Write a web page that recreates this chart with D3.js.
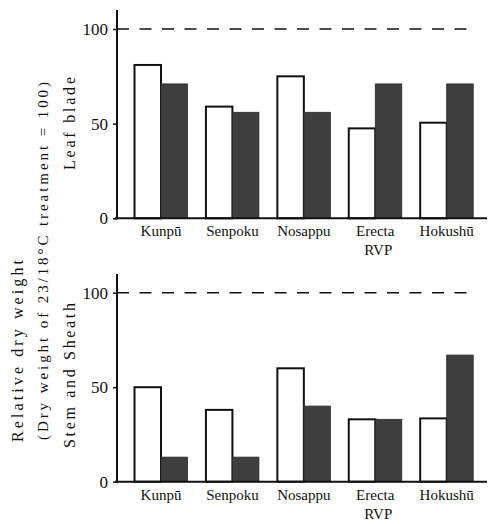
<!DOCTYPE html>
<html>
<head>
<meta charset="utf-8">
<script src="https://cdn.jsdelivr.net/npm/d3@7"></script>
<style>
html,body{margin:0;padding:0;background:#fff;}
svg{display:block;}
</style>
</head>
<body>
<svg id="chart" width="488" height="524" font-family="Liberation Serif, Times New Roman, DejaVu Serif, serif"></svg>
<script>
const categories = ["Kunpū", "Senpoku", "Nosappu", "Erecta\nRVP", "Hokushū"];
const series = ["low", "high"];
const leafLow  = [81, 59, 75, 47.5, 50.5];
const leafHigh = [71, 56, 56, 71, 71];
const stemLow  = [50, 38, 60, 33, 33.5];
const stemHigh = [13, 13, 40, 33, 67];
const yTicks = [0, 50, 100];
const referenceValue = 100;

const FONT = "Liberation Serif, Times New Roman, DejaVu Serif, serif";
const svg = d3.select("#chart");
const axisX = 117;
const x = d3.scalePoint().domain(categories).range([161, 446.7]);
const sub = d3.scaleBand().domain(series).range([-26.5, 26.5]).padding(0);
const colors = {low: "#ffffff", high: "#3e3e3e"};

function panel(lowVals, highVals, y0, y100, yTop, title, titleLen, titleCenter) {
  const y = d3.scaleLinear().domain([0, 100]).range([y0, y100]);
  const g = svg.append("g");
  const rows = categories.map((c, i) => ({c, low: lowVals[i], high: highVals[i]}));

  g.append("line")
    .attr("x1", axisX).attr("x2", 477)
    .attr("y1", y(referenceValue)).attr("y2", y(referenceValue))
    .attr("stroke", "#111").attr("stroke-width", 1.6)
    .attr("stroke-dasharray", "12,10.5");

  const grp = g.selectAll("g.cat").data(rows).enter().append("g")
    .attr("transform", d => `translate(${x(d.c)},0)`);
  grp.selectAll("rect").data(d => series.map(s => ({s, v: d[s]}))).enter().append("rect")
    .attr("x", d => sub(d.s))
    .attr("width", sub.bandwidth())
    .attr("y", d => y(d.v))
    .attr("height", d => y(0) - y(d.v))
    .attr("fill", d => colors[d.s])
    .attr("stroke", d => d.s === "low" ? "#111" : "#2a2a2a")
    .attr("stroke-width", d => d.s === "low" ? 2 : 0.8);

  const axis = d3.axisLeft(y).tickValues(yTicks).tickSize(4).tickPadding(5).tickFormat(d3.format("d"));
  const ag = g.append("g").attr("transform", `translate(${axisX},0)`).call(axis);
  ag.attr("font-family", FONT);
  ag.select(".domain").remove();
  ag.selectAll(".tick line").attr("stroke", "#111").attr("stroke-width", 1.5);
  ag.selectAll(".tick text").attr("font-size", 17).attr("fill", "#111").attr("font-family", FONT);
  g.append("line").attr("x1", axisX).attr("x2", axisX).attr("y1", yTop).attr("y2", y(0) + 1)
    .attr("stroke", "#111").attr("stroke-width", 2);
  g.append("line").attr("x1", axisX - 2).attr("x2", 487).attr("y1", y(0)).attr("y2", y(0))
    .attr("stroke", "#111").attr("stroke-width", 2);

  const lab = g.selectAll("text.cat").data(categories).enter().append("text")
    .attr("class", "cat")
    .attr("x", d => x(d))
    .attr("y", y(0) + 18)
    .attr("text-anchor", "middle")
    .attr("font-family", FONT)
    .attr("fill", "#111")
    .attr("font-size", 15);
  lab.each(function(d) {
    const parts = d.split("\n");
    const t = d3.select(this);
    parts.forEach((p, i) => {
      t.append("tspan").attr("x", x(d) + (i ? 3 : 0)).attr("dy", i ? 19 : 0).text(p);
    });
  });

  g.append("text")
    .attr("transform", `translate(75,${titleCenter}) rotate(-90)`)
    .attr("text-anchor", "middle")
    .attr("font-family", FONT).attr("fill", "#111")
    .attr("font-size", 16)
    .attr("textLength", titleLen).attr("lengthAdjust", "spacing")
    .text(title);
}

panel(leafLow, leafHigh, 218.3, 29, 10, "Leaf blade", 93, 123.5);
panel(stemLow, stemHigh, 481.7, 292.7, 274, "Stem and Sheath", 145, 375.5);

svg.append("text")
  .attr("transform", "translate(23,351) rotate(-90)")
  .attr("text-anchor", "middle").attr("font-size", 16)
  .attr("font-family", FONT).attr("fill", "#111")
  .attr("textLength", 182).attr("lengthAdjust", "spacing")
  .text("Relative dry weight");
svg.append("text")
  .attr("transform", "translate(48,261) rotate(-90)")
  .attr("text-anchor", "middle").attr("font-size", 15)
  .attr("font-family", FONT).attr("fill", "#111")
  .attr("textLength", 358).attr("lengthAdjust", "spacing")
  .text("(Dry weight of 23/18°C treatment = 100)");
</script>
</body>
</html>
